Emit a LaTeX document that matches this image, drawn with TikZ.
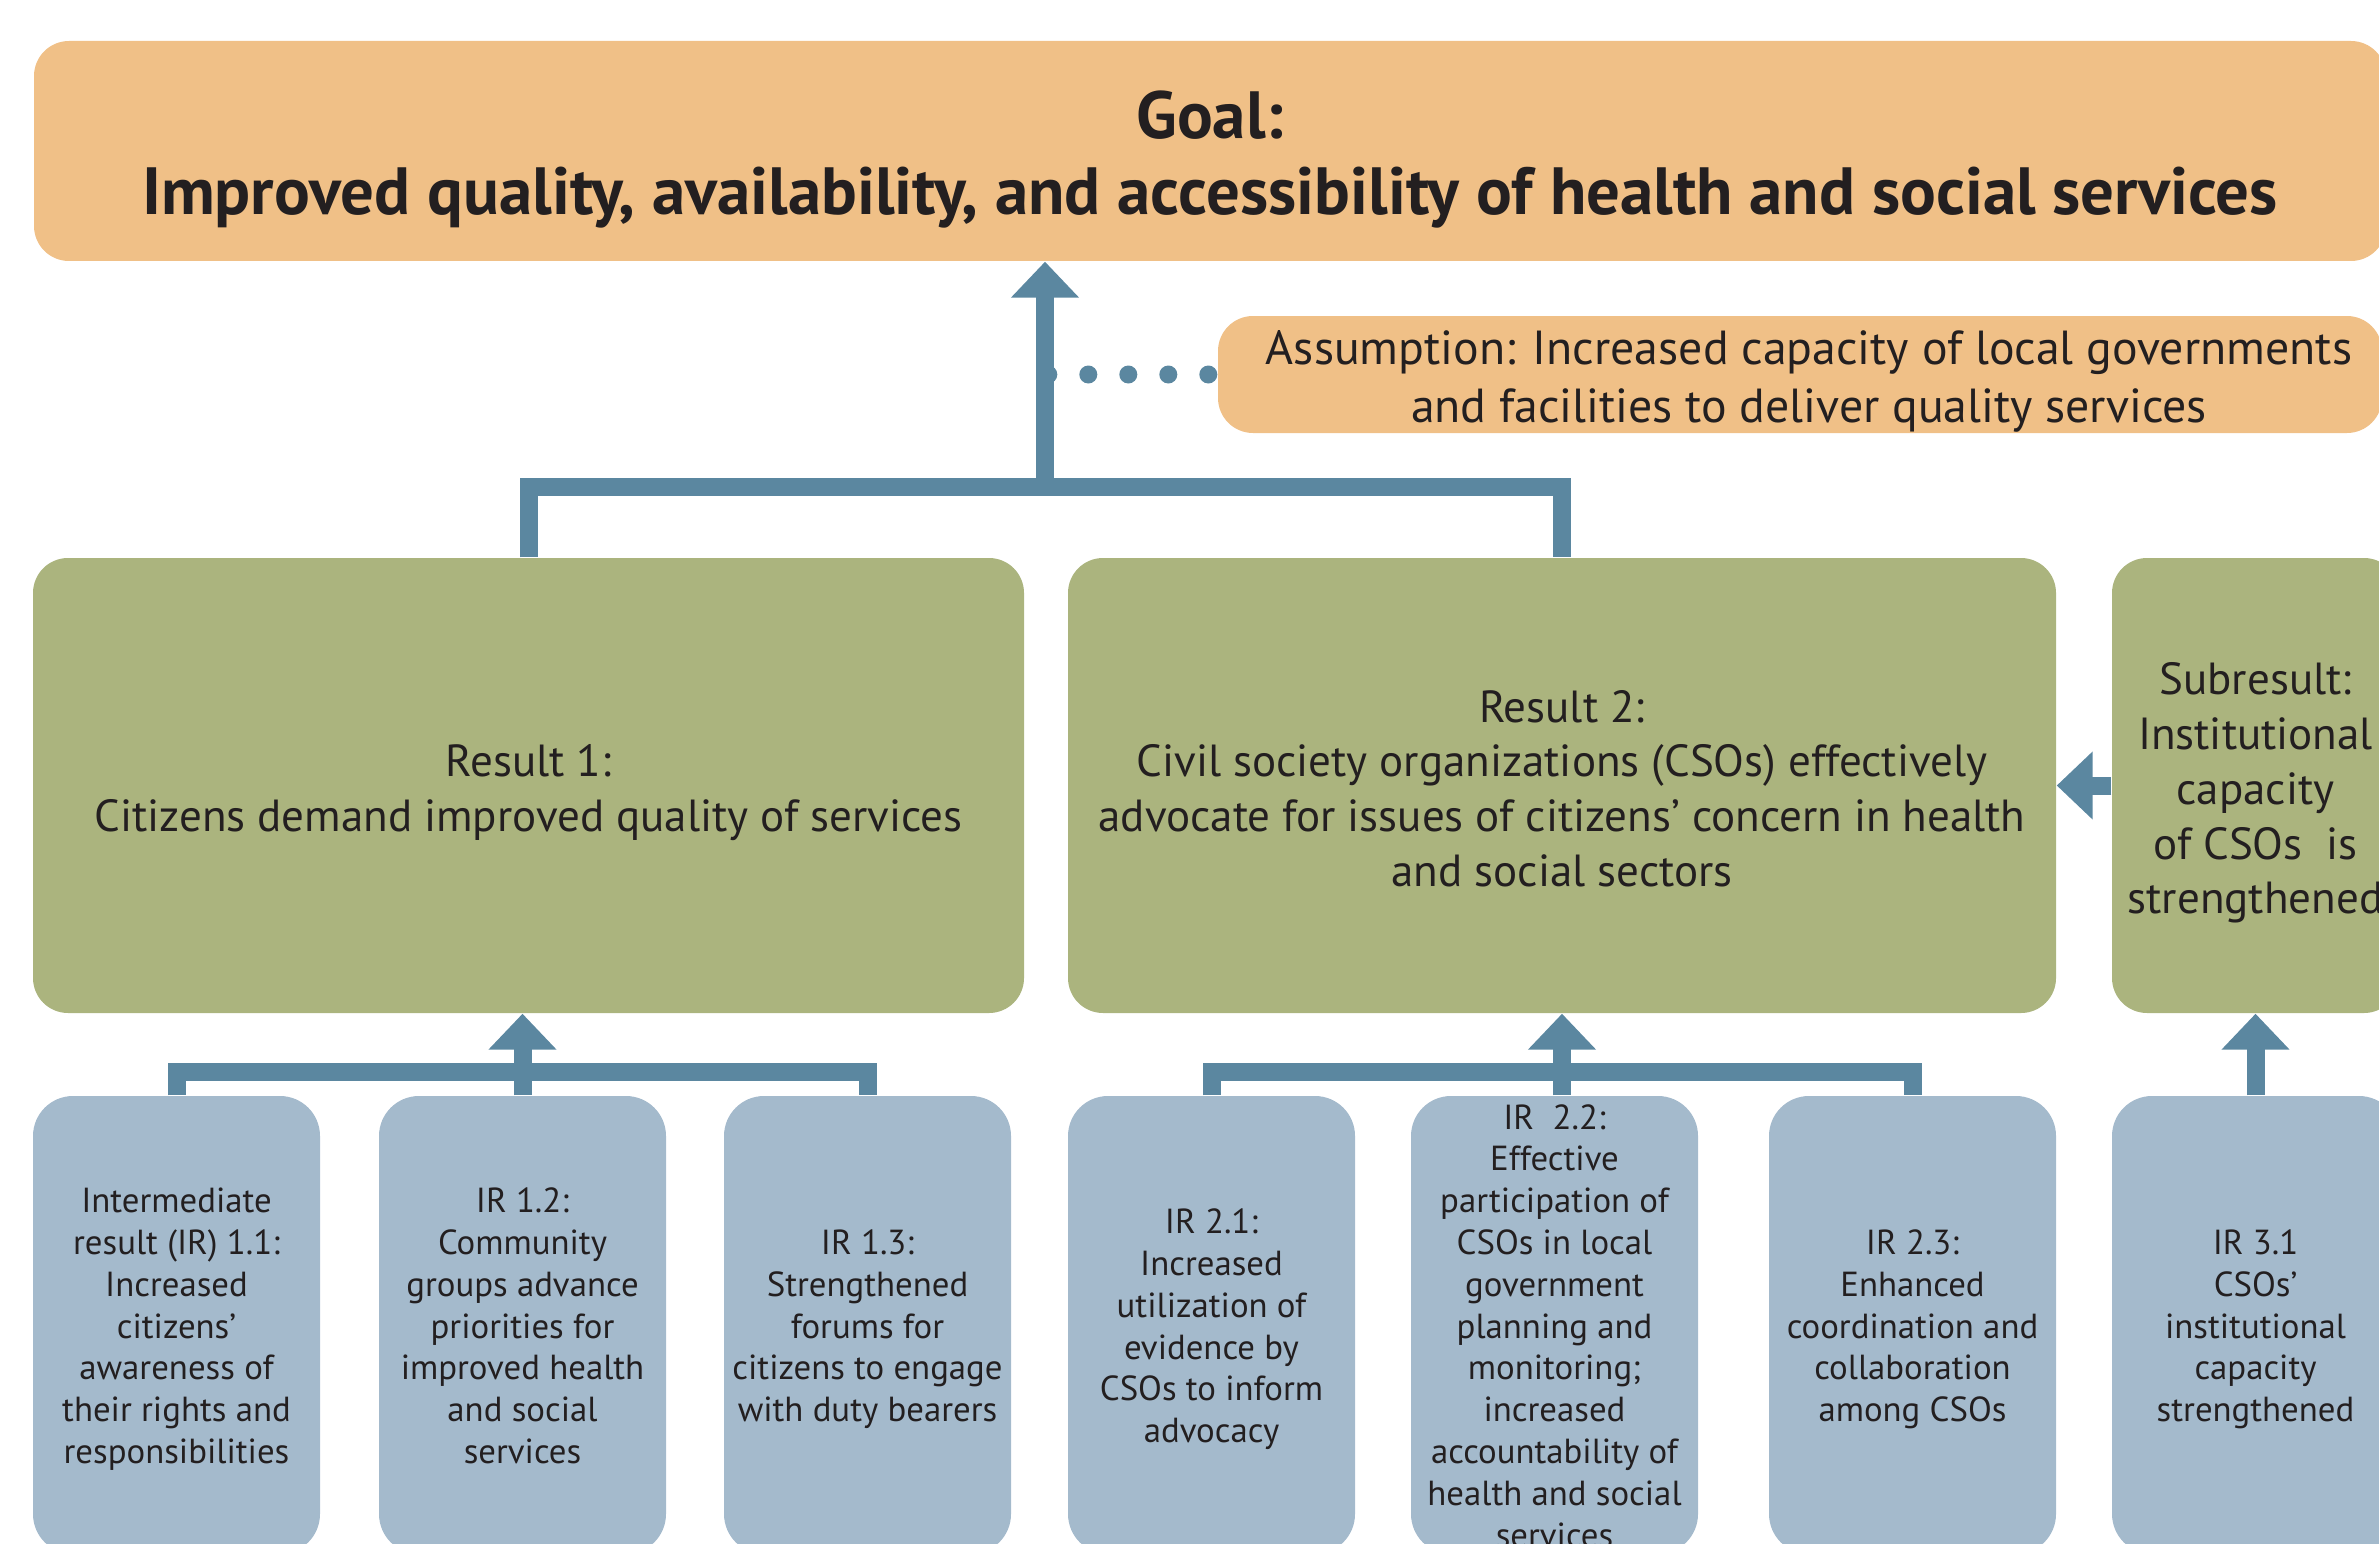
\documentclass[tikz,border=0pt]{standalone}
\usepackage{fontspec}
\setmainfont{PT Sans}
\usepackage{tikz}
\usetikzlibrary{arrows.meta}
\usetikzlibrary{positioning}

\definecolor{goalorange}{RGB}{240,192,135}
\definecolor{resultgreen}{RGB}{171,180,126}
\definecolor{irblue}{RGB}{164,186,204}
\definecolor{linkblue}{RGB}{91,135,160}
\definecolor{textdark}{RGB}{35,31,32}

\tikzset{
goal box/.style = { rectangle, draw = none, fill = goalorange, rounded corners = 0.35cm, inner sep = 0pt },
result box/.style = { rectangle, draw = none, fill = resultgreen, rounded corners = 0.35cm, inner sep = 0pt, minimum height = 4.55cm },
ir box/.style = { rectangle, draw = none, fill = irblue, rounded corners = 0.4cm, inner sep = 0pt, minimum width = 2.87cm, minimum height = 4.58cm },
box text/.style = { inner sep = 0pt, text = textdark, align = center, execute at begin node = \strut, execute at end node = \strut },
goal text/.style = { box text, font = \bfseries\fontsize{19}{21.6}\selectfont, yshift = -0.13cm },
assumption text/.style = { box text, font = \fontsize{13.6}{16.5}\selectfont, xshift = 0.09cm, yshift = -0.11cm },
result text/.style = { box text, font = \fontsize{12.8}{15.6}\selectfont, yshift = -0.11cm },
ir text/.style = { box text, font = \fontsize{9.9}{11.9}\selectfont, yshift = -0.07cm },
link/.style = { draw = linkblue, line width = 0.18cm },
link arrow/.style = { link, -{Triangle[width = 0.66cm, length = 0.36cm]} },
}

\begin{document}
\begin{tikzpicture}
    \useasboundingbox (0, 0) rectangle (23.79, 15.43);
    \clip (0, 0) rectangle (23.79, 15.43);

    % goal and assumption
    \node[goal box, minimum width = 23.52cm, minimum height = 2.20cm,
        label = {[goal text]center:{Goal:\\Improved quality, availability, and accessibility of health and social services}}] (goal) at (12.10, 13.92) {};
    \node[goal box, minimum width = 11.64cm, minimum height = 1.17cm,
        label = {[assumption text]center:{Assumption: Increased capacity of local governments\\and facilities to deliver quality services}}] (assump) at (18.00, 11.685) {};

    % results
    \node[result box, minimum width = 9.91cm, label = {[result text]center:{Result 1:\\Citizens demand improved quality of services}}] (res1) at (5.285, 7.575) {};
    \node[result box, minimum width = 9.88cm, label = {[result text]center:{Result 2:\\Civil society organizations (CSOs) effectively\\advocate for issues of citizens’ concern in health\\and social sectors}}] (res2) at (15.62, 7.575) {};
    \node[result box, minimum width = 2.87cm, label = {[result text]center:{Subresult:\\Institutional\\capacity\\of CSOs~~is\\strengthened}}] (subres) at (22.555, 7.575) {};

    % intermediate results
    \node[ir box, label = {[ir text]center:{Intermediate\\result (IR) 1.1:\\Increased\\citizens’\\awareness of\\their rights and\\responsibilities}}] (ir11) at (1.765, 2.18) {};
    \node[ir box, label = {[ir text]center:{IR 1.2:\\Community\\groups advance\\priorities for\\improved health\\and social\\services}}] (ir12) at (5.225, 2.18) {};
    \node[ir box, label = {[ir text]center:{IR 1.3:\\Strengthened\\forums for\\citizens to engage\\with duty bearers}}] (ir13) at (8.675, 2.18) {};
    \node[ir box, label = {[ir text]center:{IR 2.1:\\Increased\\utilization of\\evidence by\\CSOs to inform\\advocacy}}] (ir21) at (12.115, 2.18) {};
    \node[ir box, label = {[ir text]center:{IR~~2.2:\\Effective\\participation of\\CSOs in local\\government\\planning and\\monitoring;\\increased\\accountability of\\health and social\\services}}] (ir22) at (15.545, 2.18) {};
    \node[ir box, label = {[ir text]center:{IR 2.3:\\Enhanced\\coordination and\\collaboration\\among CSOs}}] (ir23) at (19.125, 2.18) {};
    \node[ir box, label = {[ir text]center:{IR 3.1\\CSOs’\\institutional\\capacity\\strengthened}}] (ir31) at (22.555, 2.18) {};

    % links
    \coordinate (topbar) at (10.45, 10.56);
    \coordinate (bar1) at (5.225, 4.71);
    \coordinate (bar2) at (15.62, 4.71);

    \draw[linkblue, line width = 0.18cm, line cap = round, dash pattern = on 0pt off 0.4cm] ([xshift = -0.09cm]assump.west) -- (assump.west -| topbar);
    \draw[link] (res1.north) |- (topbar) -| (res2.north);
    \draw[link arrow] (topbar) -- (topbar |- goal.south);

    \draw[link] (ir11.north) |- (bar1) -| (ir13.north);
    \draw[link arrow] (ir12.north) -- (ir12.north |- res1.south);
    \draw[link] (ir21.north) |- (bar2) -| (ir23.north);
    \draw[link arrow] (res2.south |- ir22.north) -- (res2.south);

    \draw[link arrow] (ir31.north) -- (subres.south);
    \draw[link arrow] (subres.west) -- (res2.east);
\end{tikzpicture}
\end{document}
